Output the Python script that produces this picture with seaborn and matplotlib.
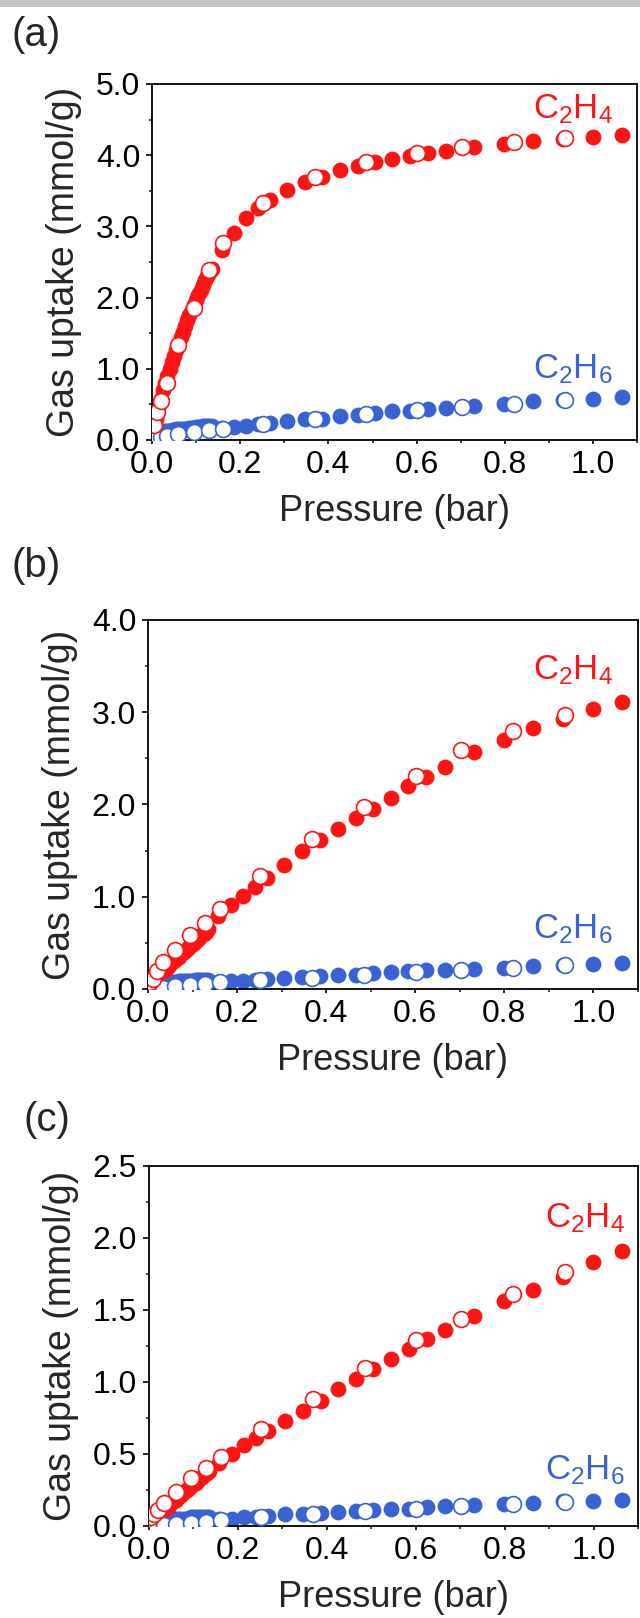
import matplotlib
matplotlib.use("Agg")
import matplotlib.pyplot as plt
from matplotlib.patches import Rectangle
from matplotlib.ticker import MultipleLocator
import seaborn as sns

# Pressure points (bar)
p_low = [0.004, 0.008, 0.012, 0.016, 0.020, 0.025, 0.030, 0.035, 0.040, 0.045,
         0.050, 0.055, 0.060, 0.065, 0.070, 0.075, 0.080, 0.085, 0.090, 0.095,
         0.100, 0.105, 0.110, 0.115, 0.120, 0.125, 0.130, 0.135]
p_ads = [0.158, 0.186, 0.213, 0.240, 0.267, 0.305, 0.346, 0.386, 0.426, 0.466,
         0.505, 0.545, 0.584, 0.625, 0.666, 0.731, 0.799, 0.865, 0.931, 0.999, 1.065]
p_des = [0.005, 0.012, 0.021, 0.034, 0.060, 0.095, 0.129, 0.162, 0.252, 0.369,
         0.486, 0.601, 0.703, 0.820, 0.936]

# (a)
a_c2h4_low = [0.18, 0.30, 0.40, 0.50, 0.58, 0.70, 0.80, 0.90, 1.00, 1.10,
              1.18, 1.27, 1.35, 1.44, 1.52, 1.60, 1.68, 1.76, 1.83, 1.90,
              1.97, 2.04, 2.11, 2.18, 2.24, 2.30, 2.35, 2.40]
a_c2h4_ads = [2.67, 2.91, 3.12, 3.26, 3.37, 3.51, 3.62, 3.70, 3.79, 3.85,
              3.90, 3.94, 3.99, 4.03, 4.06, 4.11, 4.16, 4.20, 4.23, 4.26, 4.29]
a_c2h4_des = [0.21, 0.39, 0.55, 0.80, 1.33, 1.86, 2.39, 2.77, 3.33, 3.70,
              3.90, 4.03, 4.11, 4.18, 4.24]
a_c2h6_low = [0.09, 0.10, 0.10, 0.11, 0.11, 0.12, 0.12, 0.13, 0.13, 0.14,
              0.14, 0.15, 0.15, 0.15, 0.16, 0.16, 0.16, 0.17, 0.17, 0.17,
              0.18, 0.18, 0.18, 0.19, 0.19, 0.19, 0.20, 0.20]
a_c2h6_ads = [0.17, 0.18, 0.20, 0.22, 0.24, 0.27, 0.29, 0.30, 0.33, 0.35,
              0.38, 0.40, 0.41, 0.43, 0.45, 0.47, 0.51, 0.54, 0.56, 0.58, 0.60]
a_c2h6_des = [0.02, 0.03, 0.04, 0.05, 0.08, 0.11, 0.14, 0.16, 0.22, 0.30,
              0.36, 0.42, 0.46, 0.51, 0.56]

# (b)
b_c2h4_low = [0.06, 0.08, 0.10, 0.12, 0.14, 0.16, 0.18, 0.20, 0.22, 0.24,
              0.27, 0.29, 0.31, 0.33, 0.35, 0.38, 0.40, 0.42, 0.44, 0.46,
              0.49, 0.51, 0.53, 0.55, 0.58, 0.60, 0.62, 0.65]
b_c2h4_ads = [0.79, 0.91, 1.01, 1.10, 1.20, 1.34, 1.49, 1.61, 1.73, 1.85,
              1.95, 2.07, 2.20, 2.30, 2.41, 2.57, 2.70, 2.83, 2.93, 3.03, 3.11]
b_c2h4_des = [0.08, 0.11, 0.19, 0.29, 0.42, 0.58, 0.71, 0.87, 1.22, 1.63,
              1.97, 2.31, 2.59, 2.80, 2.97]
b_c2h6_low = [0.06, 0.06, 0.06, 0.07, 0.07, 0.07, 0.07, 0.07, 0.08, 0.08,
              0.08, 0.08, 0.08, 0.08, 0.09, 0.09, 0.09, 0.09, 0.09, 0.09,
              0.09, 0.10, 0.10, 0.10, 0.10, 0.10, 0.10, 0.10]
b_c2h6_ads = [0.08, 0.085, 0.09, 0.10, 0.11, 0.12, 0.13, 0.14, 0.15, 0.155,
              0.17, 0.18, 0.19, 0.20, 0.205, 0.215, 0.23, 0.25, 0.26, 0.27, 0.28]
b_c2h6_des = [0.0, 0.0, 0.005, 0.01, 0.03, 0.045, 0.055, 0.08, 0.10, 0.12,
              0.155, 0.185, 0.205, 0.23, 0.26]

# (c)
c_c2h4_low = [0.03, 0.04, 0.05, 0.07, 0.08, 0.09, 0.10, 0.12, 0.13, 0.14,
              0.16, 0.17, 0.18, 0.20, 0.21, 0.22, 0.24, 0.25, 0.26, 0.28,
              0.29, 0.30, 0.32, 0.33, 0.34, 0.36, 0.37, 0.38]
c_c2h4_ads = [0.44, 0.50, 0.56, 0.61, 0.66, 0.73, 0.80, 0.87, 0.95, 1.02,
              1.09, 1.16, 1.23, 1.30, 1.36, 1.46, 1.56, 1.64, 1.73, 1.83, 1.91]
c_c2h4_des = [0.06, 0.08, 0.11, 0.16, 0.235, 0.33, 0.40, 0.48, 0.67, 0.88,
              1.10, 1.29, 1.44, 1.61, 1.76]
c_c2h6_low = [0.04, 0.04, 0.04, 0.04, 0.04, 0.04, 0.04, 0.05, 0.05, 0.05,
              0.05, 0.05, 0.05, 0.05, 0.05, 0.05, 0.05, 0.05, 0.05, 0.06,
              0.06, 0.06, 0.06, 0.06, 0.06, 0.06, 0.06, 0.06]
c_c2h6_ads = [0.045, 0.05, 0.06, 0.06, 0.07, 0.08, 0.085, 0.09, 0.10, 0.105,
              0.11, 0.115, 0.12, 0.13, 0.135, 0.145, 0.155, 0.16, 0.17, 0.175, 0.18]
c_c2h6_des = [0.0, 0.0, 0.005, 0.008, 0.013, 0.02, 0.03, 0.04, 0.06, 0.08,
              0.105, 0.12, 0.135, 0.15, 0.165]

panel_letters = ["(a)", "(b)", "(c)"]
y_max = [5.0, 4.0, 2.5]
y_major = [1.0, 1.0, 0.5]
y_minor = [0.5, 0.5, 0.25]

RED = "#FF1414"
BLUE = "#3A62D3"

sns.set_style("ticks")
plt.rcParams["font.family"] = ["Liberation Sans", "DejaVu Sans"]
plt.rcParams["mathtext.fontset"] = "custom"
plt.rcParams["mathtext.rm"] = "Liberation Sans"

fig = plt.figure(figsize=(6.4, 16.18), dpi=100)

# grey strip at the very top
fig.add_artist(Rectangle((0, 1 - 7 / 1618), 1, 7 / 1618, transform=fig.transFigure,
                         color="#c4c4c4", lw=0))

# axes rectangles [left, bottom, width, height]
rects = [[0.2375, 0.7281, 0.758, 0.2200],
         [0.2312, 0.3888, 0.7656, 0.2281],
         [0.2328, 0.0569, 0.7640, 0.2225]]
letter_pos = [(12, 35), (12, 566), (24, 1120)]
label_c2h4 = [(0.955, 4.65), (0.955, 3.46), (0.98, 2.14)]
label_c2h6 = [(0.955, 1.00), (0.955, 0.65), (0.98, 0.39)]

data = [
    (a_c2h4_low, a_c2h4_ads, a_c2h4_des, a_c2h6_low, a_c2h6_ads, a_c2h6_des),
    (b_c2h4_low, b_c2h4_ads, b_c2h4_des, b_c2h6_low, b_c2h6_ads, b_c2h6_des),
    (c_c2h4_low, c_c2h4_ads, c_c2h4_des, c_c2h6_low, c_c2h6_ads, c_c2h6_des),
]

S = 130
for i, (r4_low, r4_ads, r4_des, b6_low, b6_ads, b6_des) in enumerate(data):
    ax = fig.add_axes(rects[i])

    # adsorption (filled)
    for xs, ys, col in [(p_low, b6_low, BLUE), (p_ads, b6_ads, BLUE),
                        (p_low, r4_low, RED), (p_ads, r4_ads, RED)]:
        sns.scatterplot(x=xs, y=ys, ax=ax, color=col, s=S, linewidth=0, zorder=2)
    # desorption (open)
    for ys, col in [(b6_des, BLUE), (r4_des, RED)]:
        sns.scatterplot(x=p_des, y=ys, ax=ax, color="white", edgecolor=col,
                        s=S, linewidth=1.2, zorder=3)

    ax.set_xlim(0, 1.1)
    ax.set_ylim(0, y_max[i])
    ax.xaxis.set_major_locator(MultipleLocator(0.2))
    ax.xaxis.set_minor_locator(MultipleLocator(0.1))
    ax.yaxis.set_major_locator(MultipleLocator(y_major[i]))
    ax.yaxis.set_minor_locator(MultipleLocator(y_minor[i]))
    ax.xaxis.set_major_formatter(plt.FormatStrFormatter("%.1f"))
    ax.yaxis.set_major_formatter(plt.FormatStrFormatter("%.1f"))

    for sp in ax.spines.values():
        sp.set_visible(True)
        sp.set_linewidth(1.3)
        sp.set_color("black")
    ax.tick_params(which="major", direction="out", length=4.5, width=1.2,
                   labelsize=23, pad=4, colors="black")
    ax.tick_params(which="minor", direction="out", length=2.5, width=1.2)
    ax.tick_params(axis="x", which="major", length=3)

    ax.set_xlabel("Pressure (bar)", fontsize=26, labelpad=10)
    ax.set_ylabel("Gas uptake (mmol/g)", fontsize=27, labelpad=10)

    ax.text(*label_c2h4[i], r"$\mathregular{C_2H_4}$", color=RED,
            fontsize=25, ha="center", va="center")
    ax.text(*label_c2h6[i], r"$\mathregular{C_2H_6}$", color=BLUE,
            fontsize=25, ha="center", va="center")

    lx, ly = letter_pos[i]
    fig.text(lx / 640, 1 - ly / 1618, panel_letters[i], fontsize=29,
             ha="left", va="center")

fig.savefig("out.png", dpi=100)
plt.close(fig)
